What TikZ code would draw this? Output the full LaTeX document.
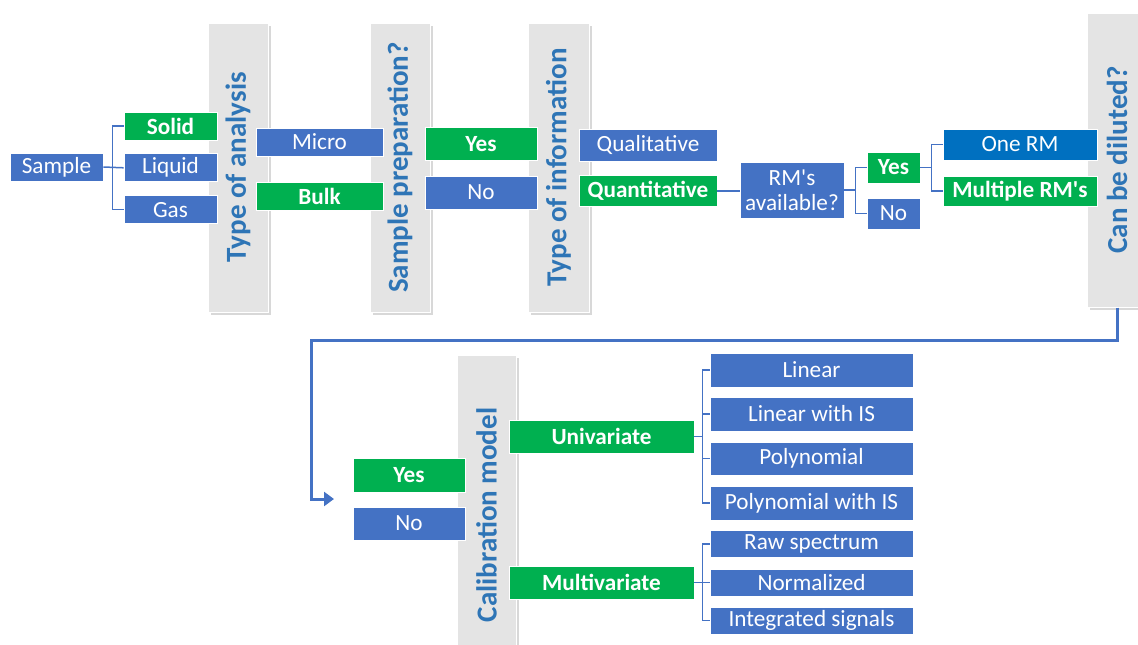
\documentclass[tikz,border=0pt]{standalone}
\usepackage{fontspec}
\setmainfont{Carlito}
\usetikzlibrary{arrows.meta,positioning,calc,shadows}
\definecolor{boxblue}{HTML}{4472C4}
\definecolor{boxgreen}{HTML}{00B050}
\definecolor{rmblue}{HTML}{0070C0}
\definecolor{panelgray}{HTML}{E4E4E4}
\definecolor{paneltext}{HTML}{2E75B6}
\tikzset{every picture/.style={line width=1.3pt}}
\tikzset{
    optbox/.style={fill=boxblue, draw=white, line width=0.8pt, text=white, inner sep=0pt,
        align=center, font=\fontsize{23.2}{25.5}\selectfont},
    selbox/.style={optbox, fill=boxgreen, font=\fontsize{23.2}{25.5}\selectfont\bfseries},
    panel/.style={fill=panelgray, draw=white, line width=1pt, inner sep=0pt, text=paneltext,
        drop shadow={shadow xshift=2.5pt, shadow yshift=-2.5pt, opacity=0.3},
        font=\fontsize{29}{32}\selectfont\bfseries},
    link/.style={draw=boxblue, line width=1.5pt},
    flow/.style={draw=boxblue, line width=3pt, -{Triangle[length=10pt, width=14pt]}},
}

\begin{document}
\begin{tikzpicture}[x=1pt, y=-1pt]
    \clip (0,0) rectangle (1138,645);
    \fill[white] (0,0) rectangle (1138,645);

    % grey question panels
    \node[panel, minimum width=60pt, minimum height=289pt] (analysis) at (238,167.5) {\rotatebox{90}{Type of analysis}};
    \node[panel, minimum width=60pt, minimum height=289pt] (prep) at (400,167.5) {\rotatebox{90}{Sample preparation?}};
    \node[panel, minimum width=61pt, minimum height=289pt] (info) at (558.5,167.5) {\rotatebox{90}{Type of information}};
    \node[panel, minimum width=60pt, minimum height=294pt] (dilute) at (1117,160) {\rotatebox{90}{Can be diluted?}};
    \node[panel, minimum width=59pt, minimum height=320pt] (calib) at (486.5,515) {\rotatebox{90}{Calibration model}};

    % sample
    \node[optbox, minimum width=93pt, minimum height=28pt] (sample) at (56.5,167) {Sample};
    \node[selbox, minimum width=93pt, minimum height=28pt] (solid) at (170.5,126) {Solid};
    \node[optbox, minimum width=93pt, minimum height=28pt, below=13pt of solid] (liquid) {Liquid};
    \node[optbox, minimum width=93pt, minimum height=28pt, below=13pt of liquid] (gas) {Gas};

    \node[optbox, minimum width=127pt, minimum height=28pt] (micro) at (319.5,142) {Micro};
    \node[selbox, minimum width=127pt, minimum height=28pt] (bulk) at (319.5,196.5) {Bulk};

    \node[selbox, minimum width=112pt, minimum height=33pt] (prepyes) at (481,144) {Yes};
    \node[optbox, minimum width=112pt, minimum height=33pt] (prepno) at (481,192.5) {No};

    \node[optbox, minimum width=138pt, minimum height=32pt] (quali) at (648,145) {Qualitative};
    \node[selbox, minimum width=138pt, minimum height=31pt] (quanti) at (648,191) {Quantitative};

    \node[optbox, minimum width=104pt, minimum height=56pt] (rms) at (792,190) {RM\textquotesingle s\\available?};
    \node[selbox, minimum width=53pt, minimum height=31pt] (rmyes) at (893.5,167.5) {Yes};
    \node[optbox, minimum width=53pt, minimum height=31pt] (rmno) at (893.5,213.5) {No};

    \node[optbox, fill=rmblue, minimum width=154pt, minimum height=31pt] (onerm) at (1020,144.5) {One RM};
    \node[selbox, minimum width=154pt, minimum height=30pt] (multirm) at (1020,191) {Multiple RM\textquotesingle s};

    % dilution answer and calibration
    \node[selbox, minimum width=112pt, minimum height=34pt] (dilyes) at (409,475) {Yes};
    \node[optbox, minimum width=112pt, minimum height=33pt] (dilno) at (409,523.5) {No};

    \node[selbox, minimum width=185pt, minimum height=33pt] (univ) at (601.5,436.5) {Univariate};
    \node[selbox, minimum width=185pt, minimum height=33pt] (multi) at (601.5,582.5) {Multivariate};

    \node[optbox, minimum width=203pt, minimum height=34pt] (linear) at (811.5,370) {Linear};
    \node[optbox, minimum width=203pt, minimum height=34pt] (linis) at (811.5,414) {Linear with IS};
    \node[optbox, minimum width=203pt, minimum height=33pt] (poly) at (811.5,458.5) {Polynomial};
    \node[optbox, minimum width=203pt, minimum height=34pt] (polyis) at (811.5,503) {Polynomial with IS};

    \node[optbox, minimum width=203pt, minimum height=27pt] (raw) at (811.5,544) {Raw spectrum};
    \node[optbox, minimum width=203pt, minimum height=27pt] (norm) at (811.5,582.5) {Normalized};
    \node[optbox, minimum width=203pt, minimum height=27pt] (integ) at (811.5,620.5) {Integrated signals};

    % connectors
    \draw[link] (solid.west) -- ++(-11,0) |- (gas.west);
    \draw[link] (sample.east) -- (liquid.west);
    \draw[link] (quanti.east) -- (quanti.east -| rms.west);
    \draw[link] (rmyes.west) -- ++(-11,0) |- (rmno.west);
    \draw[link] (rms.east) -- ++(12,0);
    \draw[link] (onerm.west) -- ++(-11,0) |- (multirm.west);
    \draw[link] (rmyes.east) -- ++(12,0);
    \draw[link] (linear.west) -- ++(-7,0) |- (polyis.west);
    \draw[link] (linis.west) -- ++(-7,0);
    \draw[link] (poly.west) -- ++(-7,0);
    \draw[link] (univ.east) -- ++(9,0);
    \draw[link] (raw.west) -- ++(-7,0) |- (integ.west);
    \draw[link] (multi.east) -- (norm.west);

    \coordinate (arrowend) at (334,499);
    \draw[flow] (dilute.south) -- ++(0,33) -| ($(arrowend)+(-23,0)$) -- (arrowend);
\end{tikzpicture}
\end{document}
